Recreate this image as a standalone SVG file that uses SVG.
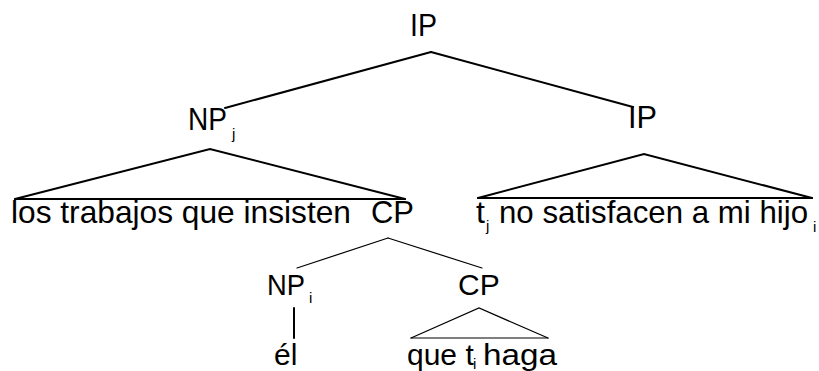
<svg xmlns="http://www.w3.org/2000/svg" width="819" height="371" viewBox="0 0 819 371">
<style>
text{font-family:"Liberation Sans",Arial,sans-serif;fill:#000}
.big{font-size:32px}
.mid{font-size:30px}
.sub{font-size:15px}
.e{stroke:#000;fill:none;stroke-linecap:round}
.w2{stroke-width:2}
.w1{stroke-width:1.2}
</style>
<rect width="819" height="371" fill="#fff"/>
<g id="connectors">
<line class="e w2" x1="431" y1="52" x2="225" y2="108"/>
<line class="e w2" x1="431" y1="52" x2="633" y2="107"/>
<polyline class="e w2" points="15,199 210,149 405,199"/>
<line class="e w2" x1="15" y1="199" x2="405" y2="199"/>
<polyline class="e w2" points="478,198 644,154 812,198"/>
<line class="e w2" x1="478" y1="198" x2="812" y2="198"/>
<line class="e w1" x1="388" y1="238" x2="297" y2="268"/>
<line class="e w1" x1="388" y1="238" x2="482" y2="268"/>
<line class="e w2" x1="294" y1="308" x2="294" y2="338"/>
<polyline class="e w1" points="411,338 479,308 548,338"/>
<line class="e w1" x1="411" y1="338" x2="548" y2="338"/>
</g>
<g id="ip-root"><text class="big" x="410" y="36" textLength="27" lengthAdjust="spacingAndGlyphs">IP</text></g>
<g id="np-j"><text class="big" x="188" y="130" textLength="39" lengthAdjust="spacingAndGlyphs">NP</text><text class="sub" x="232" y="139">j</text></g>
<g id="ip-right"><text class="big" x="628" y="128" textLength="29" lengthAdjust="spacingAndGlyphs">IP</text></g>
<g id="np-j-leaf"><text class="big" x="11" y="223" textLength="340" lengthAdjust="spacingAndGlyphs">los trabajos que insisten</text></g>
<g id="cp-upper"><text class="big" x="371" y="223" textLength="43" lengthAdjust="spacingAndGlyphs">CP</text></g>
<g id="ip-leaf"><text class="big" x="476" y="223">t</text><text class="sub" x="486" y="231">j</text><text class="big" x="499" y="223" textLength="309" lengthAdjust="spacingAndGlyphs">no satisfacen a mi hijo</text><text class="sub" x="813" y="232">i</text></g>
<g id="np-i"><text class="mid" x="267" y="295" textLength="38" lengthAdjust="spacingAndGlyphs">NP</text><text class="sub" x="309" y="303">i</text></g>
<g id="cp-lower"><text class="mid" x="458" y="295">CP</text></g>
<g id="el"><text class="mid" x="274" y="365">él</text></g>
<g id="cp-leaf"><text class="mid" x="407" y="365">que t</text><text class="sub" x="473" y="369">i</text><text class="mid" x="483" y="365" textLength="74" lengthAdjust="spacingAndGlyphs">haga</text></g>
</svg>
